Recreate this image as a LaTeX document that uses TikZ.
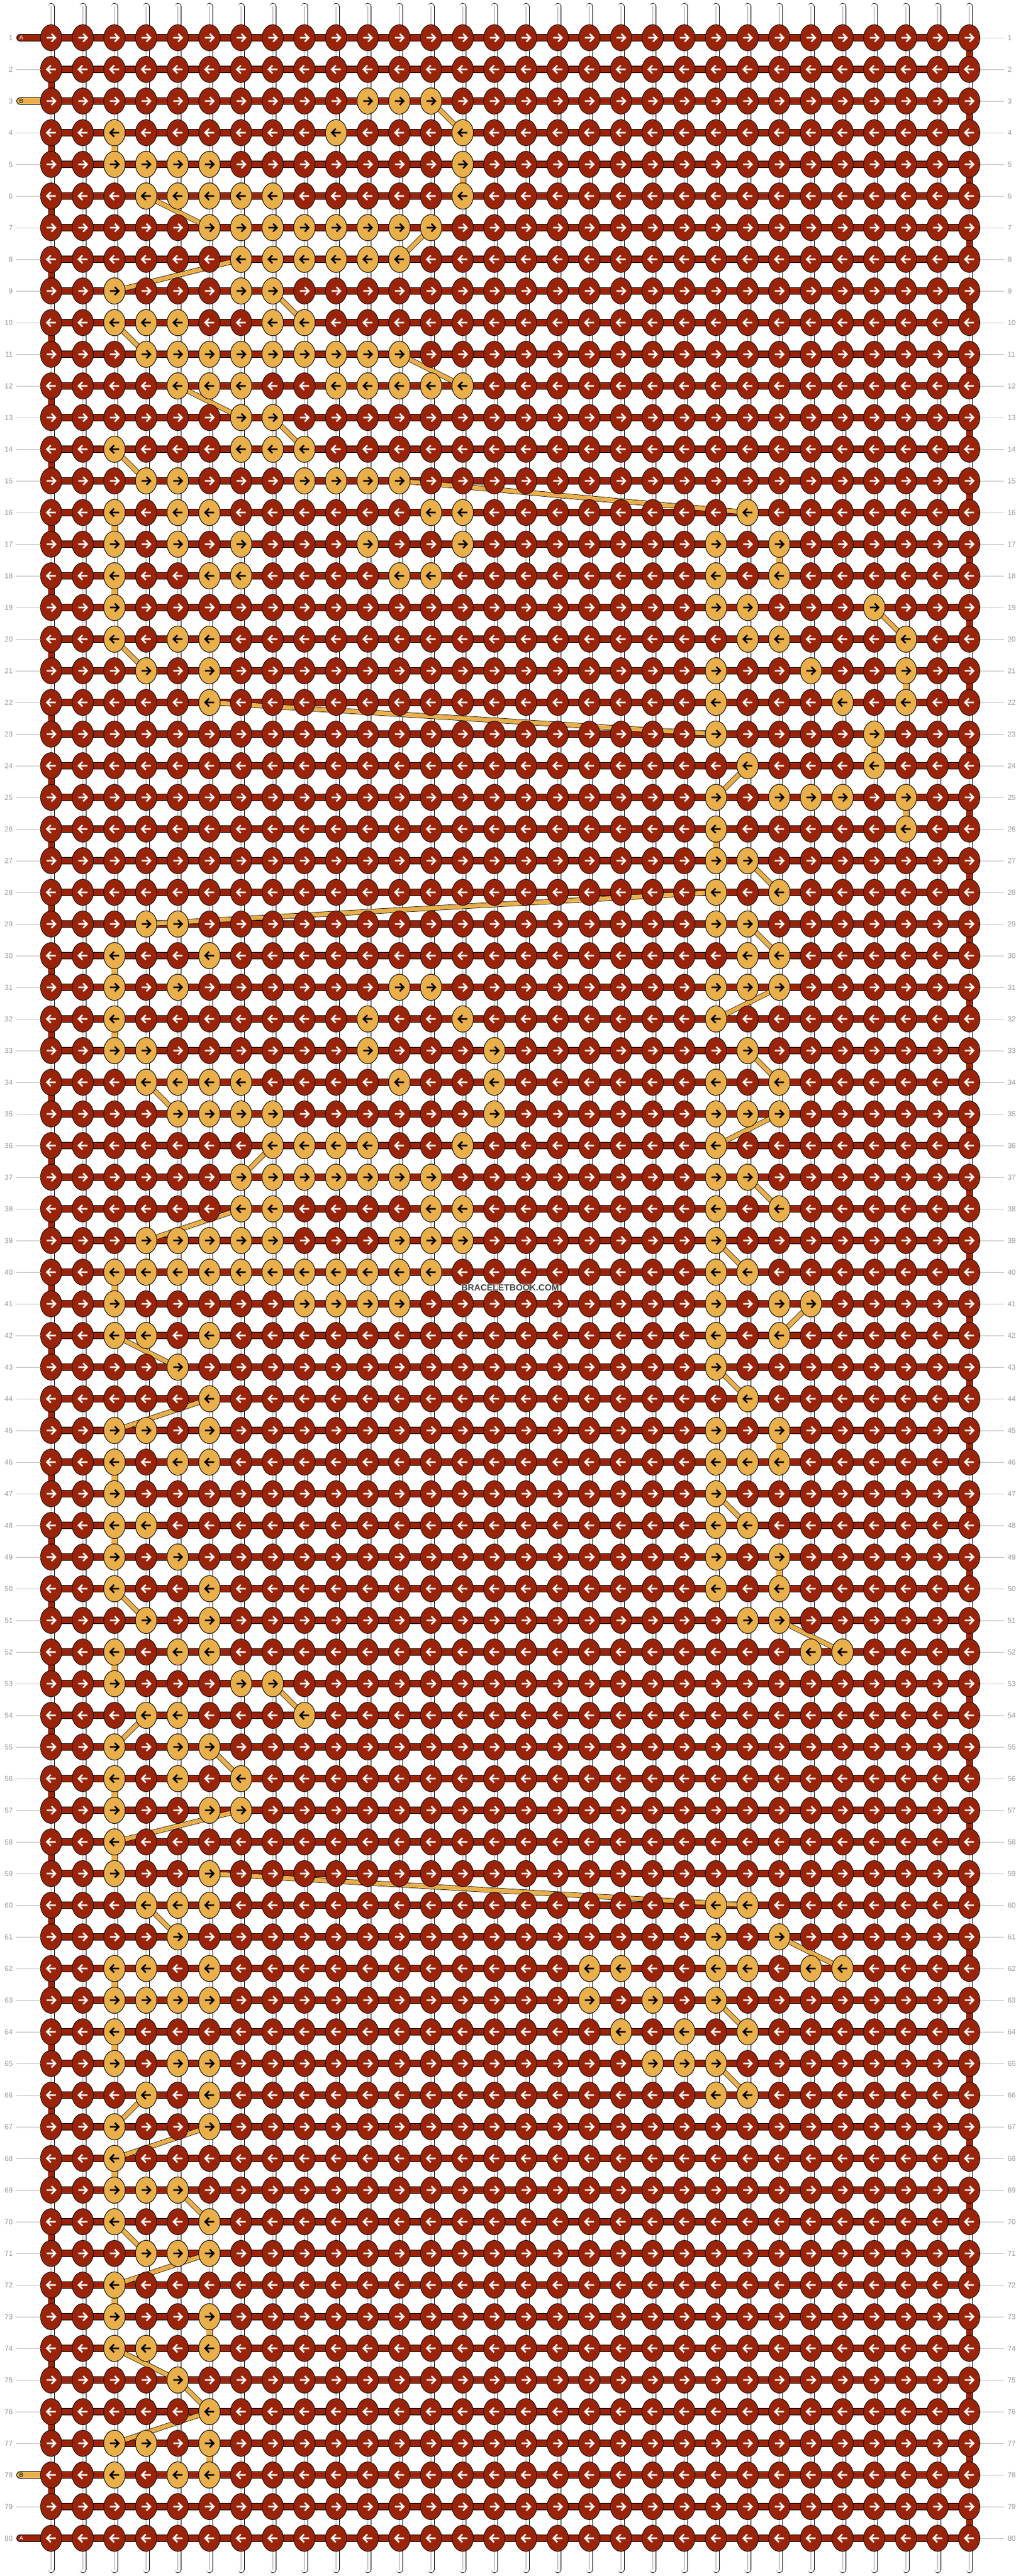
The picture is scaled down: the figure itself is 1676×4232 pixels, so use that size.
\documentclass[tikz,border=0pt]{standalone}
\usepackage{fontspec}
\setmainfont{Liberation Sans}
\usetikzlibrary{shapes.geometric}
\definecolor{knotred}{HTML}{9A2409}
\definecolor{knotgold}{HTML}{E9AF4B}
\definecolor{numgray}{HTML}{999999}
\definecolor{tickgray}{HTML}{C0C0C0}
\definecolor{warpgray}{HTML}{C8C8C8}
\pgfdeclarelayer{bgl}
\pgfdeclarelayer{warpl}
\pgfdeclarelayer{bandl}
\pgfdeclarelayer{linkl}
\pgfsetlayers{bgl,warpl,bandl,linkl,main}
\tikzset{
  knotrow/.style={fill=knotred, draw=black, line width=0.8pt},
  goldknot/.style={ellipse, draw=black, line width=0.8pt, fill=knotgold,
    minimum width=35pt, minimum height=43pt, inner sep=0pt},
  arrowwhite/.style={draw=white, line width=2.7pt, line cap=butt, line join=miter},
  arrowblack/.style={draw=black, line width=2.7pt, line cap=butt, line join=miter},
  warp/.style={draw=black, line width=0.8pt, double=white, double distance=9.4pt, line cap=round},
  warpcore/.style={draw=warpgray, line width=1.6pt, line cap=round},
  band/.style={draw=black, line width=0.8pt, double=knotred, double distance=10.4pt},
  leadred/.style={band, line cap=round},
  leadgold/.style={draw=black, line width=0.8pt, double=knotgold, double distance=10.4pt, line cap=round},
  redturn/.style={draw=black, line width=0.8pt, double=knotred, double distance=9.4pt},
  goldturn/.style={draw=black, line width=0.8pt, double=knotgold, double distance=9.4pt},
  goldlink/.style={draw=black, line width=0.7pt, double=knotgold, double distance=7pt},
  rowtick/.style={draw=tickgray, line width=1pt},
  numleft/.style={text=numgray, font=\fontsize{12}{12}\selectfont, inner sep=0pt,
    outer xsep=5pt, anchor=east},
  numright/.style={text=numgray, font=\fontsize{12}{12}\selectfont, inner sep=0pt,
    outer xsep=6pt, anchor=west},
  leadlab/.style={font=\fontsize{10}{10}\selectfont, inner sep=0pt},
  brandmark/.style={font=\bfseries\fontsize{14.5}{15}\selectfont, text=black!72,
    fill=white, fill opacity=0.55, text opacity=1, inner xsep=1pt, inner ysep=1pt},
}

% gold knots, row by row
\def\goldrows{%
3/{11,12,13},
4/{3,10,14},
5/{3,4,5,6,14},
6/{4,5,6,7,8,14},
7/{6,7,8,9,10,11,12,13},
8/{7,8,9,10,11,12},
9/{3,7,8},
10/{3,4,5,8,9},
11/{4,5,6,7,8,9,10,11,12},
12/{5,6,7,10,11,12,13,14},
13/{7,8},
14/{3,7,8,9},
15/{4,5,9,10,11,12},
16/{3,5,6,13,14,23},
17/{3,5,7,11,14,22,24},
18/{3,6,7,12,13,22,24},
19/{3,22,23,27},
20/{3,5,6,23,24,28},
21/{4,6,22,25,28},
22/{6,22,26,28},
23/{22,27},
24/{23,27},
25/{22,24,25,26,28},
26/{22,28},
27/{22,23},
28/{22,24},
29/{4,5,22,23},
30/{3,6,23,24},
31/{3,5,12,13,22,23,24},
32/{3,11,14,22},
33/{3,4,11,15,23},
34/{4,5,6,7,12,15,22,24},
35/{5,6,7,8,15,22,23,24},
36/{8,9,10,11,14,22},
37/{7,8,9,10,11,12,13,22,23},
38/{7,8,13,14,22,24},
39/{4,5,6,7,8,12,13,14,22},
40/{3,4,5,6,7,8,9,10,11,12,13,22,23},
41/{3,9,10,11,12,22,24,25},
42/{3,4,6,22,24},
43/{5,22},
44/{6,23},
45/{3,4,6,22,24},
46/{3,5,6,22,23,24},
47/{3,22},
48/{3,4,22,23},
49/{3,5,22,24},
50/{3,6,22,24},
51/{4,6,23,24},
52/{3,5,6,25,26},
53/{3,7,8},
54/{4,5,9},
55/{3,5,6},
56/{3,5,7},
57/{3,6,7},
58/{3},
59/{3,6},
60/{4,5,6,22,23},
61/{5,22,24},
62/{3,4,6,18,19,22,23,25,26},
63/{3,4,5,6,18,20,22},
64/{3,19,21,23},
65/{3,5,6,20,21,22},
66/{4,6,22,23},
67/{3,6},
68/{3},
69/{3,4,5},
70/{3,6},
71/{4,5,6},
72/{3},
73/{3,6},
74/{3,4,6},
75/{5},
76/{6},
77/{3,4,6},
78/{3,5,6}}

\begin{document}
\begin{tikzpicture}[x=1pt, y=-1pt]
  \useasboundingbox (0,0) rectangle (1676,4232);
  \begin{pgfonlayer}{bgl}
    \fill[white] (0,0) rectangle (1676,4232);
  \end{pgfonlayer}

  % red knots, one path per row
  \foreach \r in {1,...,80} {
    \pgfmathsetmacro\y{62+52*(\r-1)}
    \ifodd\r\relax\def\tip{7}\def\tail{-7.5}\def\barb{0.5}%
    \else\def\tip{-7}\def\tail{7.5}\def\barb{-0.5}\fi
    \coordinate (k-\r-1) at (84,\y);
    \coordinate (k-\r-30) at (1592,\y);
    \filldraw[knotrow] \foreach \c in {1,...,30} {
      ({84+52*\c-52},\y) ellipse [x radius=17.5pt, y radius=21.5pt]};
    \draw[arrowwhite] \foreach \c [evaluate=\c as \x using 84+52*\c-52] in {1,...,30} {
      ({\x+(\tail)},\y) -- ({\x+(\tip)},\y)
      ({\x+(\barb)},{\y-6.5}) -- ({\x+(\tip)},\y) -- ({\x+(\barb)},{\y+6.5})};
  }

  % gold knots on top; first and last gold column of each row
  \foreach \r/\cols in \goldrows {
    \pgfmathsetmacro\y{62+52*(\r-1)}
    \ifodd\r\relax\def\tip{7}\def\tail{-7.5}\def\barb{0.5}%
    \else\def\tip{-7}\def\tail{7.5}\def\barb{-0.5}\fi
    \gdef\goldlo{99}\gdef\goldhi{0}
    \foreach \c in \cols {
      \pgfmathsetmacro\x{84+52*(\c-1)}
      \node[goldknot] (k-\r-\c) at (\x,\y) {};
      \draw[arrowblack] ({\x+(\tail)},\y) -- ({\x+(\tip)},\y)
        ({\x+(\barb)},{\y-6.5}) -- ({\x+(\tip)},\y) -- ({\x+(\barb)},{\y+6.5});
      \ifnum\c<\goldlo\relax\xdef\goldlo{\c}\fi
      \ifnum\c>\goldhi\relax\xdef\goldhi{\c}\fi
    }
    \expandafter\xdef\csname lo-\r\endcsname{\goldlo}
    \expandafter\xdef\csname hi-\r\endcsname{\goldhi}
  }

  % vertical threads
  \begin{pgfonlayer}{warpl}
    \foreach \c in {1,...,30} {
      \pgfmathsetmacro\x{84+52*(\c-1)}
      \coordinate (wtop-\c) at (\x,10.5);
      \coordinate (wbot-\c) at (\x,4221.5);
      \draw[warp] (wtop-\c) -- (wbot-\c);
      \draw[warpcore] (wtop-\c) -- (wbot-\c);
    }
  \end{pgfonlayer}

  % rows and leads
  \begin{pgfonlayer}{bandl}
    \foreach \r in {1,...,80}
      \draw[band] (k-\r-1) -- (k-\r-30);
    \coordinate (lead-1) at (33,62);
    \coordinate (lead-3) at (33,166);
    \coordinate (lead-78) at (33,4066);
    \coordinate (lead-80) at (33,4170);
    \draw[leadred] (lead-1) -- (k-1-1);
    \draw[leadgold] (lead-3) -- (k-3-1);
    \draw[leadgold] (lead-78) -- (k-78-1);
    \draw[leadred] (lead-80) -- (k-80-1);
  \end{pgfonlayer}
  \node[leadlab, text=white] (labA-1) at (35,62.5) {A};
  \node[leadlab, text=black] (labB-3) at (35,166.5) {B};
  \node[leadlab, text=black] (labB-78) at (35,4066.5) {B};
  \node[leadlab, text=white] (labA-80) at (35,4170.5) {A};

  % row numbers
  \foreach \r in {1,...,80} {
    \pgfmathsetmacro\y{62+52*(\r-1)}
    \coordinate (edgeL-\r) at (66.5,\y);
    \coordinate (edgeR-\r) at (1609.5,\y);
    \node[numleft] (numL-\r) at (26,\y) {\r};
    \node[numright] (numR-\r) at (1649,\y) {\r};
    \draw[rowtick] (edgeR-\r) -- (numR-\r.west);
  }
  \foreach \r in {2,4,5,6,...,77,79}
    \draw[rowtick] (numL-\r.east) -- (edgeL-\r);

  % turns of thread A at the edges
  \begin{pgfonlayer}{linkl}
    \foreach \r [evaluate=\r as \rn using int(\r+1)] in {2,4,...,78}
      \draw[redturn] (k-\r-1) -- (k-\rn-1);
    \foreach \r [evaluate=\r as \rn using int(\r+1)] in {1,3,...,79}
      \draw[redturn] (k-\r-30) -- (k-\rn-30);
  \end{pgfonlayer}

  % path of thread B between rows
  \gdef\prevrow{0}\gdef\prevcol{0}
  \begin{pgfonlayer}{linkl}
    \foreach \r/\cols in \goldrows {
      \ifodd\r\relax
        \xdef\startcol{\csname lo-\r\endcsname}\xdef\endcol{\csname hi-\r\endcsname}
      \else
        \xdef\startcol{\csname hi-\r\endcsname}\xdef\endcol{\csname lo-\r\endcsname}
      \fi
      \ifnum\prevrow>0\relax
        \ifnum\startcol=\prevcol\relax
          \draw[goldturn] (k-\prevrow-\prevcol.center) -- (k-\r-\startcol.center);
        \else
          \draw[goldlink] (k-\prevrow-\prevcol.center) -- (k-\r-\startcol.center);
        \fi
      \fi
      \xdef\prevrow{\r}\xdef\prevcol{\endcol}
    }
  \end{pgfonlayer}

  \node[brandmark] (brand) at (838,2115) {BRACELETBOOK.COM};
\end{tikzpicture}
\end{document}
